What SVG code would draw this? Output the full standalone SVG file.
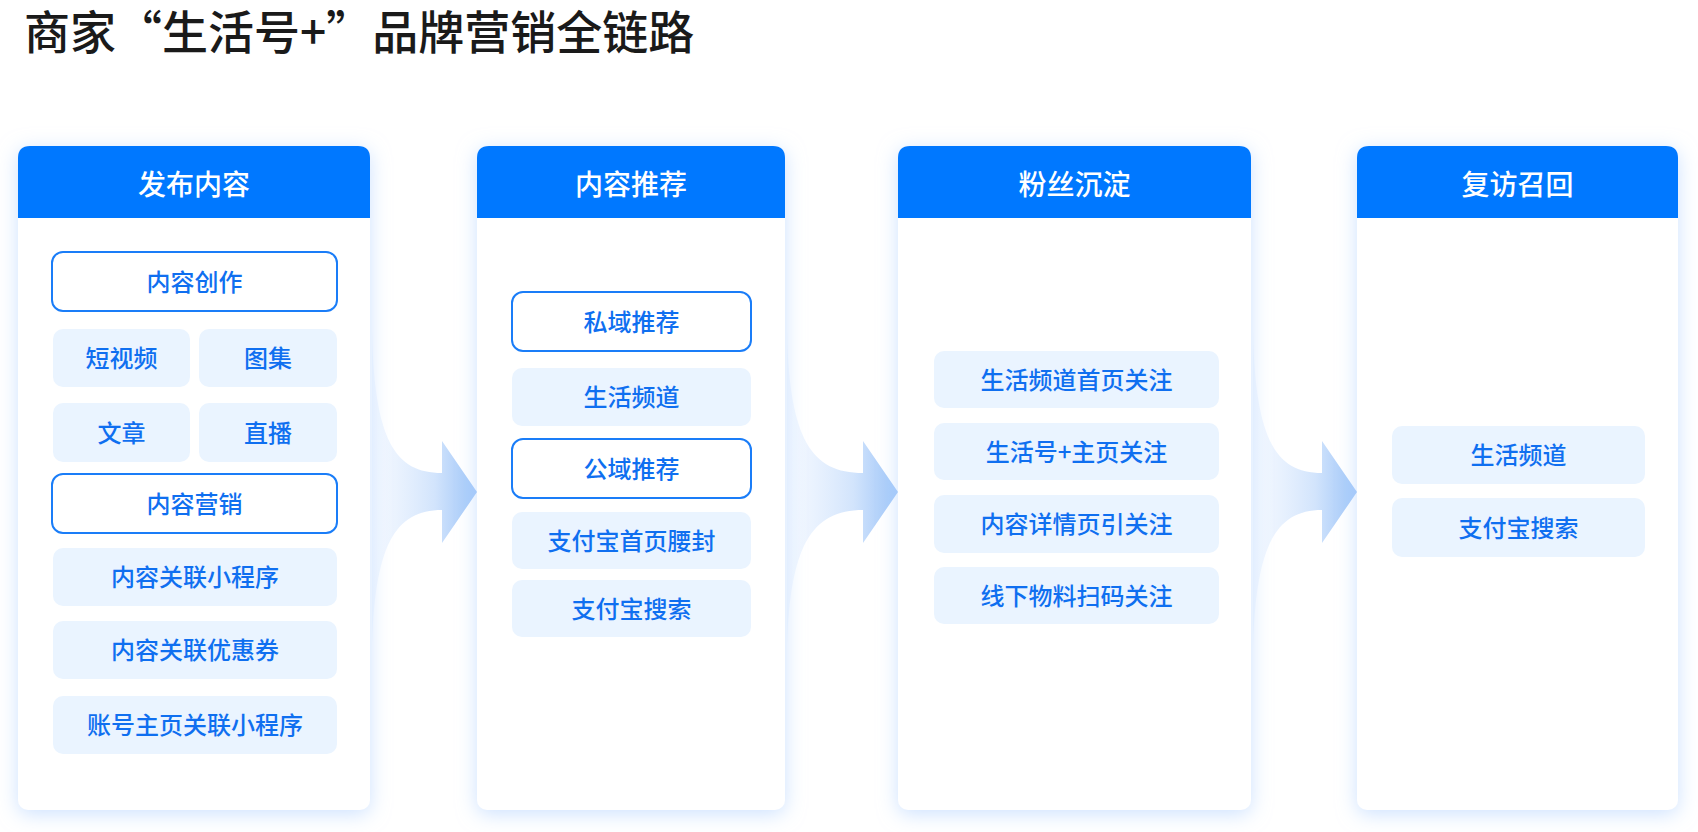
<svg xmlns="http://www.w3.org/2000/svg" width="1698" height="832" viewBox="0 0 1698 832">
  <defs>
    <style>
      .title { font-family: "Noto Sans CJK SC", "Noto Sans", sans-serif; font-size: 46px; font-weight: 500; fill: #1a1a1a; }
      .hd { font-family: "Noto Sans CJK SC", "Noto Sans", sans-serif; font-size: 28px; font-weight: 500; fill: #ffffff; text-anchor: middle; }
      .it { font-family: "Noto Sans CJK SC", "Noto Sans", sans-serif; font-size: 24px; font-weight: 500; fill: #0f6ff0; text-anchor: middle; }
      .card { fill: #ffffff; filter: url(#shadow); }
      .head { fill: #0078ff; }
      .pill { fill: #eaf4ff; }
      .outline { fill: #ffffff; stroke: #1a7df8; stroke-width: 2; }
      .arrow { fill: url(#arrowGrad); }
    </style>
    <filter id="shadow" x="-20%" y="-10%" width="140%" height="120%">
      <feDropShadow dx="0" dy="4" stdDeviation="10" flood-color="#b7d5ff" flood-opacity="0.7"/>
    </filter>
    <linearGradient id="arrowGrad" x1="0" y1="0" x2="1" y2="0">
      <stop offset="0" stop-color="#eef5ff" stop-opacity="0.6"/>
      <stop offset="0.6" stop-color="#d2e4fc"/>
      <stop offset="1" stop-color="#9cc4f8"/>
    </linearGradient>
  </defs>

  <rect x="0" y="0" width="1698" height="832" fill="#ffffff"/>

  <text class="title" x="24" y="49">商家“生活号+”品牌营销全链路</text>

  <g id="connectors">
    <path class="arrow" d="M372,330 C374,440 395,473 442,473 L442,441 L477,492 L442,543 L442,510 C395,510 374,545 372,653 Z"/>
    <path class="arrow" d="M787,330 C789,440 812,473 863,473 L863,441 L898,492 L863,543 L863,510 C812,510 789,545 787,653 Z"/>
    <path class="arrow" d="M1253,330 C1255,440 1276,473 1322,473 L1322,441 L1357,492 L1322,543 L1322,510 C1276,510 1255,545 1253,653 Z"/>
  </g>

  <g id="card-publish">
    <rect class="card" x="18" y="146" width="352" height="664" rx="10"/>
    <path class="head" d="M18,218 V158 Q18,146 30,146 H358 Q370,146 370,158 V218 Z"/>
    <text class="hd" x="194" y="195">发布内容</text>
    <g id="n-create"><rect class="outline" x="52" y="252" width="285" height="59" rx="11"/><text class="it" x="194.5" y="290.5">内容创作</text></g>
    <g id="n-video"><rect class="pill" x="53" y="329" width="137" height="58" rx="10"/><text class="it" x="121.5" y="367">短视频</text></g>
    <g id="n-gallery"><rect class="pill" x="199" y="329" width="138" height="58" rx="10"/><text class="it" x="268" y="367">图集</text></g>
    <g id="n-article"><rect class="pill" x="53" y="403" width="137" height="59" rx="10"/><text class="it" x="121.5" y="441.5">文章</text></g>
    <g id="n-live"><rect class="pill" x="199" y="403" width="138" height="59" rx="10"/><text class="it" x="268" y="441.5">直播</text></g>
    <g id="n-marketing"><rect class="outline" x="52" y="474" width="285" height="59" rx="11"/><text class="it" x="194.5" y="512.5">内容营销</text></g>
    <g id="n-mini"><rect class="pill" x="53" y="548" width="284" height="58" rx="10"/><text class="it" x="195" y="586">内容关联小程序</text></g>
    <g id="n-coupon"><rect class="pill" x="53" y="621" width="284" height="58" rx="10"/><text class="it" x="195" y="659">内容关联优惠券</text></g>
    <g id="n-account"><rect class="pill" x="53" y="696" width="284" height="58" rx="10"/><text class="it" x="195" y="734">账号主页关联小程序</text></g>
  </g>

  <g id="card-recommend">
    <rect class="card" x="477" y="146" width="308" height="664" rx="10"/>
    <path class="head" d="M477,218 V158 Q477,146 489,146 H773 Q785,146 785,158 V218 Z"/>
    <text class="hd" x="631" y="195">内容推荐</text>
    <g id="n-private"><rect class="outline" x="512" y="292" width="239" height="59" rx="11"/><text class="it" x="631.5" y="330.5">私域推荐</text></g>
    <g id="n-channel"><rect class="pill" x="512" y="368" width="239" height="58" rx="10"/><text class="it" x="631.5" y="406">生活频道</text></g>
    <g id="n-public"><rect class="outline" x="512" y="439" width="239" height="59" rx="11"/><text class="it" x="631.5" y="477.5">公域推荐</text></g>
    <g id="n-banner"><rect class="pill" x="512" y="512" width="239" height="57" rx="10"/><text class="it" x="631.5" y="549.5">支付宝首页腰封</text></g>
    <g id="n-search"><rect class="pill" x="512" y="580" width="239" height="57" rx="10"/><text class="it" x="631.5" y="617.5">支付宝搜索</text></g>
  </g>

  <g id="card-fans">
    <rect class="card" x="898" y="146" width="353" height="664" rx="10"/>
    <path class="head" d="M898,218 V158 Q898,146 910,146 H1239 Q1251,146 1251,158 V218 Z"/>
    <text class="hd" x="1074.5" y="195">粉丝沉淀</text>
    <g id="n-f1"><rect class="pill" x="934" y="351" width="285" height="57" rx="10"/><text class="it" x="1076.5" y="388.5">生活频道首页关注</text></g>
    <g id="n-f2"><rect class="pill" x="934" y="423" width="285" height="57" rx="10"/><text class="it" x="1076.5" y="460.5">生活号+主页关注</text></g>
    <g id="n-f3"><rect class="pill" x="934" y="495" width="285" height="58" rx="10"/><text class="it" x="1076.5" y="533">内容详情页引关注</text></g>
    <g id="n-f4"><rect class="pill" x="934" y="567" width="285" height="57" rx="10"/><text class="it" x="1076.5" y="604.5">线下物料扫码关注</text></g>
  </g>

  <g id="card-revisit">
    <rect class="card" x="1357" y="146" width="321" height="664" rx="10"/>
    <path class="head" d="M1357,218 V158 Q1357,146 1369,146 H1666 Q1678,146 1678,158 V218 Z"/>
    <text class="hd" x="1517.5" y="195">复访召回</text>
    <g id="n-r1"><rect class="pill" x="1392" y="426" width="253" height="58" rx="10"/><text class="it" x="1518.5" y="464">生活频道</text></g>
    <g id="n-r2"><rect class="pill" x="1392" y="498" width="253" height="59" rx="10"/><text class="it" x="1518.5" y="536.5">支付宝搜索</text></g>
  </g>
</svg>
